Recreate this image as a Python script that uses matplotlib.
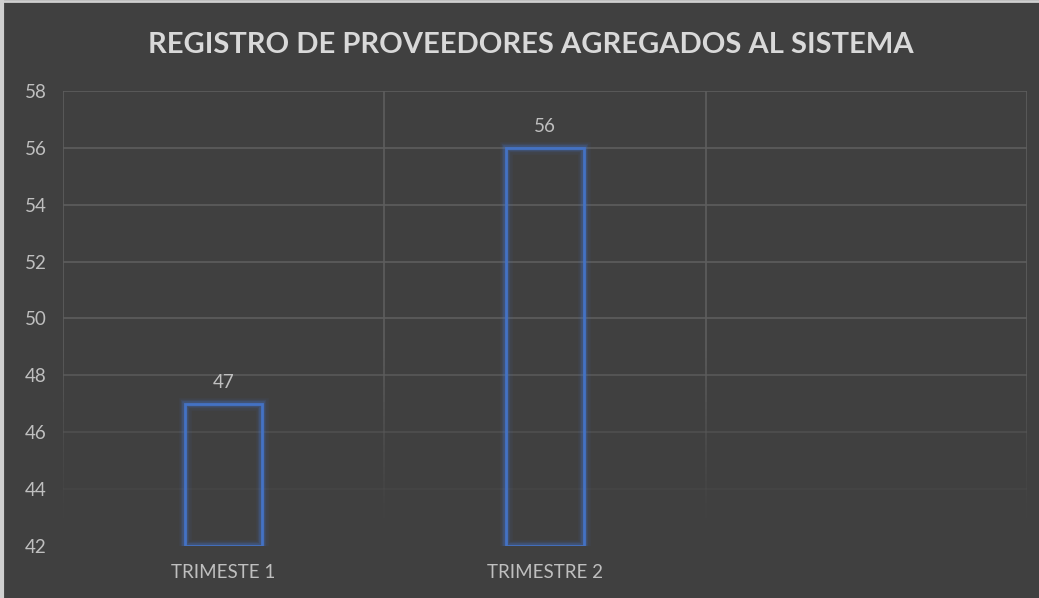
import matplotlib
matplotlib.use('Agg')
import matplotlib.pyplot as plt
import numpy as np

categorias = ['TRIMESTE 1', 'TRIMESTRE 2', '']
valores = [47, 56, None]
y_ticks = [42, 44, 46, 48, 50, 52, 54, 56, 58]
titulo = 'REGISTRO DE PROVEEDORES AGREGADOS AL SISTEMA'

bg = '#404040'
grid_c = '#5e5e5e'
txt_c = '#bfbfbf'
bar_c = '#4472c4'

plt.rcParams['font.family'] = ['Lato', 'DejaVu Sans']

fig = plt.figure(figsize=(10.39, 5.98), dpi=100, facecolor=bg)
ax = fig.add_axes([0.0606, 0.087, 0.928, 0.761])
ax.set_facecolor(bg)
ax.set_xlim(-0.5, len(categorias) - 0.5)
ax.set_ylim(y_ticks[0], y_ticks[-1])

# lineas de cuadricula que se desvanecen hacia abajo
y0, y1 = y_ticks[0], y_ticks[-1]
for yv in y_ticks[1:]:
    a = np.clip((yv - 43) / 6, 0.1, 1)
    ax.plot([-0.5, len(categorias) - 0.5], [yv, yv], color=grid_c, lw=1.2, alpha=a, zorder=1)
for xv in np.arange(-0.5, len(categorias), 1.0):
    segs = np.linspace(y0 + 1, y1, 60)
    for i in range(len(segs) - 1):
        a = np.clip((segs[i] - 43) / 6, 0.05, 1)
        ax.plot([xv, xv], [segs[i], segs[i + 1]], color=grid_c, lw=1.2, alpha=a,
                solid_capstyle='butt', zorder=1)

# barras con contorno brillante
w = 0.24
for i, v in enumerate(valores):
    if v is None:
        continue
    for lw, a in [(9, 0.08), (6, 0.15), (4, 0.25)]:
        ax.bar(i, v - y0, bottom=y0, width=w, fill=False, edgecolor=bar_c,
               linewidth=lw, alpha=a, zorder=2)
    ax.bar(i, v - y0, bottom=y0, width=w, fill=False, edgecolor=bar_c,
           linewidth=2, zorder=3)
    ax.text(i, v + 0.45, str(v), ha='center', va='bottom', color=txt_c, fontsize=13.5)

ax.set_xticks(range(len(categorias)))
ax.set_xticklabels(categorias)
ax.set_yticks(y_ticks)
ax.tick_params(length=0, colors=txt_c, labelsize=13.5)
ax.tick_params(axis='x', pad=13)
ax.tick_params(axis='y', pad=12)
for s in ax.spines.values():
    s.set_visible(False)

fig.text(0.511, 0.925, titulo, ha='center', va='center', color='#d9d9d9',
         fontsize=21, fontweight='bold')

# borde claro del marco
fig.add_artist(plt.Line2D([0.002, 0.002], [0, 1], color='#d0d0d0', lw=3, transform=fig.transFigure))
fig.add_artist(plt.Line2D([0, 1], [0.998, 0.998], color='#d0d0d0', lw=2, transform=fig.transFigure))

fig.savefig('out.png', dpi=100, facecolor=bg)
